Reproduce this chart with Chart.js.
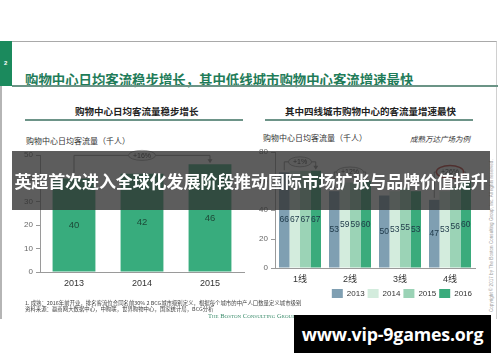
<!DOCTYPE html>
<html><head><meta charset="utf-8">
<script src="https://cdn.jsdelivr.net/npm/chart.js@4/dist/chart.umd.min.js"></script>
<style>
html,body{margin:0;padding:0;background:#fff;}
body{width:500px;height:362px;position:relative;overflow:hidden;font-family:"Liberation Sans","Noto Sans CJK SC",sans-serif;}
.abs{position:absolute;}
#slide{left:0;top:41px;width:497px;height:278px;border-top:1px solid #a9a9a9;border-left:2px solid #b5b5b5;border-right:1px solid #d0d0d0;box-sizing:border-box;}
#tab{left:0;top:41px;width:12px;height:45px;background:#1b8a5d;color:#fff;font:bold 6px "Liberation Sans";}
#tab span{position:absolute;left:4px;top:19px;}
#title{left:25px;top:69px;font:bold 13.4px "Noto Sans CJK SC";color:#1f7c59;white-space:nowrap;}
#rule{left:12px;top:85px;width:486px;height:2px;background:#6b9486;}
.sub{top:104px;font:bold 9.5px "Noto Sans CJK SC";color:#222;white-space:nowrap;}
.subrule{top:119px;height:1.5px;background:#6d9488;}
.ylab{font:8px "Noto Sans CJK SC";color:#333;white-space:nowrap;}
#note{left:410px;top:133px;font:italic 7.5px "Noto Sans CJK SC";color:#333;white-space:nowrap;}
#banner{left:12px;top:151px;width:478px;height:59px;background:rgba(48,48,48,0.78);color:#fff;font:bold 17px "Noto Sans CJK SC";text-align:center;line-height:59px;white-space:nowrap;z-index:5;letter-spacing:-0.1px;}
#foot{left:25px;top:300px;font:5.4px "Noto Sans CJK SC";color:#444;line-height:6px;white-space:nowrap;}
#bcg{left:208px;top:312px;font:6.5px "Liberation Serif";font-variant:small-caps;color:#3b8c6b;white-space:nowrap;}
#copy{left:489px;top:312px;font:4.6px "Liberation Sans";color:#9a9a9a;white-space:nowrap;transform-origin:0 0;transform:rotate(-90deg);}
#wm{left:294px;top:315px;width:197px;height:38px;background:#000;color:#fff;font:bold 17.8px "Open Sans";text-align:center;line-height:38px;z-index:6;white-space:nowrap;letter-spacing:-0.2px;}
canvas{position:absolute;}
</style></head>
<body>
<div id="slide" class="abs"></div>
<div id="tab" class="abs"><span>2</span></div>
<div id="title" class="abs">购物中心日均客流稳步增长，其中低线城市购物中心客流增速最快</div>
<div id="rule" class="abs"></div>
<div class="abs sub" style="left:75px;">购物中心日均客流量稳步增长</div>
<div class="abs subrule" style="left:25px;width:218px;"></div>
<div class="abs sub" style="left:285px;">其中四线城市购物中心的客流量增速最快</div>
<div class="abs subrule" style="left:265px;width:208px;"></div>
<div class="abs ylab" style="left:26px;top:135px;">购物中心日均客流量（千人）</div>
<div class="abs ylab" style="left:263px;top:132px;">购物中心日均客流量（千人）</div>
<div id="note" class="abs">成熟万达广场为例</div>
<canvas id="cl" width="230" height="150" style="left:20px;top:140px;"></canvas>
<canvas id="cr" width="225" height="168" style="left:255px;top:140px;"></canvas>
<div id="banner" class="abs">英超首次进入全球化发展阶段推动国际市场扩张与品牌价值提升</div>
<div id="foot" class="abs">1. 成熟：2016年前开业，排名客流位合同名前30% 2 BCG城市级别定义，根据每个城市的中产人口数量定义城市级别<br>资料来源：赢商网大数据中心，中购联，世界购物中心，国家统计局，BCG分析</div>
<div id="bcg" class="abs">The Boston Consulting Group</div>
<div id="copy" class="abs">Copyright © 2017 by The Boston Consulting Group, Inc. All rights reserved.</div>
<div id="wm" class="abs">www.vip-9games.org</div>
<script>
// ---- data ----
const leftCategories = ['2013', '2014', '2015'];
const leftValues = [40, 42, 46];
const leftGrowth = '+16%';

const rightCategories = ['1线', '2线', '3线', '4线'];
const rightSeriesNames = ['2013', '2014', '2015', '2016'];
const values2013 = [66, 53, 50, 47];
const values2014 = [67, 59, 53, 53];
const values2015 = [67, 59, 55, 56];
const values2016 = [67, 60, 53, 60];
const rightGrowth = ['+1%', '+12%', null, '+26%'];
const rightHighlight = [false, false, false, true];

// ---- styles ----
const FONT = '"Liberation Sans", "Noto Sans CJK SC", sans-serif';
const rightColors = ['#7f9fb2', '#d3ecdd', '#9bd3b6', '#3aab7c'];

const centerLabels = {
  id: 'centerLabels',
  afterDatasetsDraw(chart, args, opts) {
    const ctx = chart.ctx;
    ctx.save();
    ctx.font = (opts.size || 10) + 'px ' + FONT;
    ctx.fillStyle = opts.color || '#222';
    ctx.textAlign = 'center';
    ctx.textBaseline = 'middle';
    chart.data.datasets.forEach((ds, di) => {
      chart.getDatasetMeta(di).data.forEach((el, i) => {
        ctx.fillText(String(ds.data[i]), el.x, (el.y + el.base) / 2);
      });
    });
    ctx.restore();
  }
};

function drawBracket(ctx, x1, y1, x2, y2, yb, label, red) {
  ctx.save();
  ctx.strokeStyle = '#8a8a8a';
  ctx.fillStyle = '#8a8a8a';
  ctx.lineWidth = 1;
  ctx.beginPath();
  ctx.moveTo(x1, y1); ctx.lineTo(x1, yb); ctx.lineTo(x2, yb); ctx.lineTo(x2, y2 - 3);
  ctx.stroke();
  ctx.beginPath();
  ctx.moveTo(x2 - 2.5, y2 - 4); ctx.lineTo(x2 + 2.5, y2 - 4); ctx.lineTo(x2, y2); ctx.closePath();
  ctx.fill();
  const cx = (x1 + x2) / 2;
  ctx.font = '7px ' + FONT;
  const w = ctx.measureText(label).width + 9;
  ctx.beginPath();
  ctx.ellipse(cx, yb, w / 2, red ? 6.5 : 5, 0, 0, Math.PI * 2);
  ctx.fillStyle = '#f4f4f4';
  ctx.fill();
  ctx.strokeStyle = red ? '#c0302a' : '#8a8a8a';
  ctx.lineWidth = red ? 1.5 : 0.8;
  ctx.stroke();
  ctx.fillStyle = '#333';
  ctx.textAlign = 'center';
  ctx.textBaseline = 'middle';
  ctx.fillText(label, cx, yb + 0.5);
  ctx.restore();
}

const leftBracket = {
  id: 'leftBracket',
  afterDatasetsDraw(chart) {
    const els = chart.getDatasetMeta(0).data;
    const first = els[0], last = els[els.length - 1];
    const top = Math.min(...els.map(e => e.y));
    drawBracket(chart.ctx, first.x, first.y - 2, last.x, last.y - 1, top - 9, leftGrowth, false);
  }
};

const rightBrackets = {
  id: 'rightBrackets',
  afterDatasetsDraw(chart) {
    const n = chart.data.datasets.length;
    const m0 = chart.getDatasetMeta(0).data, mN = chart.getDatasetMeta(n - 1).data;
    rightGrowth.forEach((g, i) => {
      if (!g) return;
      let top = Infinity;
      for (let d = 0; d < n; d++) top = Math.min(top, chart.getDatasetMeta(d).data[i].y);
      drawBracket(chart.ctx, m0[i].x, m0[i].y - 2, mN[i].x, mN[i].y - 1, top - 9, g, rightHighlight[i]);
    });
  }
};

Chart.defaults.font.family = FONT;

new Chart(document.getElementById('cl'), {
  type: 'bar',
  data: {
    labels: leftCategories,
    datasets: [{ data: leftValues, backgroundColor: '#38ac7d', barPercentage: 0.9, categoryPercentage: 0.7 }]
  },
  options: {
    responsive: false, animation: false, devicePixelRatio: 1,
    layout: { padding: { top: 15, right: 6, left: 0, bottom: 0 } },
    plugins: { legend: { display: false }, tooltip: { enabled: false },
      centerLabels: { size: 9.5, color: '#1d4a38' } },
    scales: {
      x: { grid: { display: false, drawTicks: false }, border: { color: '#9a9a9a' },
           ticks: { font: { size: 9 }, color: '#333', padding: 6 }, afterFit(s) { s.height = 18; } },
      y: { min: 0, max: 50, ticks: { stepSize: 10, font: { size: 8 }, color: '#666', padding: 3 },
           grid: { drawOnChartArea: false, tickLength: 4, color: '#9a9a9a' }, border: { color: '#9a9a9a' },
           afterFit(s) { s.width = 20; } }
    }
  },
  plugins: [centerLabels, leftBracket]
});

const rightData = [values2013, values2014, values2015, values2016];
new Chart(document.getElementById('cr'), {
  type: 'bar',
  data: {
    labels: rightCategories,
    datasets: rightData.map((v, i) => ({ label: rightSeriesNames[i], data: v, backgroundColor: rightColors[i],
      barPercentage: 1.0, categoryPercentage: 0.84 }))
  },
  options: {
    responsive: false, animation: false, devicePixelRatio: 1,
    layout: { padding: { top: 12, right: 5, left: 0, bottom: 0 } },
    plugins: {
      tooltip: { enabled: false },
      centerLabels: { size: 8.5, color: '#1e3848' },
      legend: { position: 'bottom', align: 'end',
        labels: { boxWidth: 11, boxHeight: 9, font: { size: 8 }, color: '#333', padding: 3 } }
    },
    scales: {
      x: { grid: { display: false, drawTicks: false }, border: { color: '#9a9a9a' },
           ticks: { font: { size: 9 }, color: '#333', padding: 6 }, afterFit(s) { s.height = 18; } },
      y: { min: 0, max: 80, ticks: { stepSize: 20, font: { size: 8 }, color: '#666', padding: 3 },
           grid: { drawOnChartArea: false, tickLength: 4, color: '#9a9a9a' }, border: { color: '#9a9a9a' },
           afterFit(s) { s.width = 20; } }
    }
  },
  plugins: [centerLabels, rightBrackets]
});
</script>
</body></html>
